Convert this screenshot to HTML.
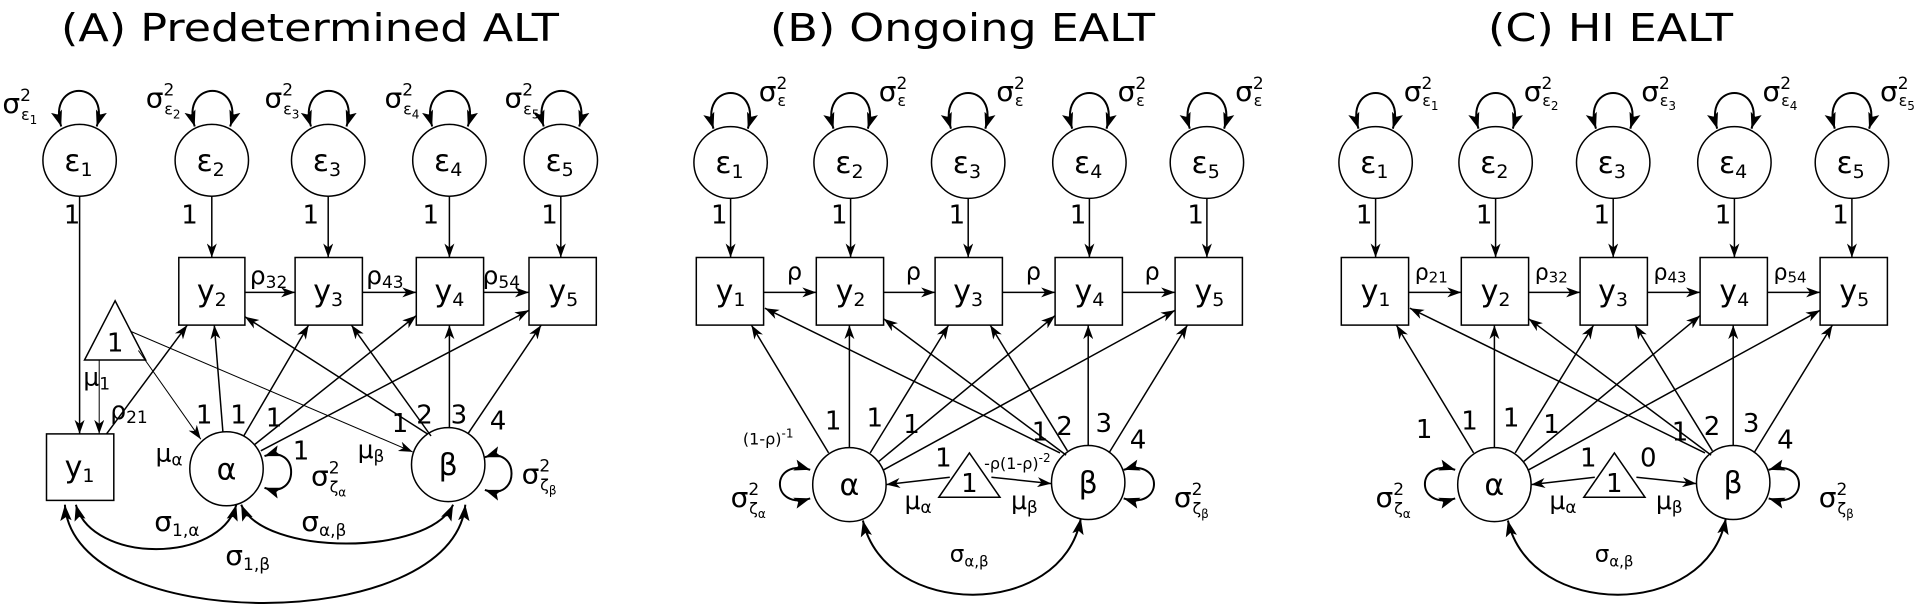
<!DOCTYPE html>
<html><head><meta charset="utf-8"><style>
html,body{margin:0;padding:0;background:#fff;}
svg{display:block;font-family:"DejaVu Sans","Liberation Sans",sans-serif;}
</style></head><body>
<svg id="root" width="1920" height="612" viewBox="0 0 1920 612" xmlns="http://www.w3.org/2000/svg">
<defs>
<marker id="a" viewBox="0 0 14 10" refX="14" refY="5" markerWidth="15" markerHeight="10" orient="auto-start-reverse" markerUnits="userSpaceOnUse"><path d="M0,0 L14,5 L0,10 L4,5z" fill="#000"/></marker>
<marker id="b" viewBox="0 0 14 10" refX="14" refY="5" markerWidth="16" markerHeight="12" orient="auto-start-reverse" markerUnits="userSpaceOnUse"><path d="M0,0 L14,5 L0,10 L3,5z" fill="#000"/></marker>
</defs>
<g fill="#000" font-size="38">
<text x="61" y="41" textLength="498" lengthAdjust="spacingAndGlyphs">(A) Predetermined ALT</text>
<text x="770" y="41" textLength="385" lengthAdjust="spacingAndGlyphs">(B) Ongoing EALT</text>
<text x="1488" y="41" textLength="245" lengthAdjust="spacingAndGlyphs">(C) HI EALT</text>
</g>

<!-- ================= PANEL A ================= -->
<g id="pA">
<g stroke="#000" stroke-width="1.5" fill="none">
<ellipse cx="65" cy="155" rx="30" ry="34"/>
<ellipse cx="173" cy="155" rx="30" ry="34"/>
<ellipse cx="268" cy="155" rx="30" ry="34"/>
<ellipse cx="367" cy="155" rx="30" ry="34"/>
<ellipse cx="458" cy="155" rx="30" ry="34"/>
<g stroke-width="2" marker-start="url(#b)" marker-end="url(#b)">
<path d="M50,123 C38,78 91,78 79,123"/>
<path d="M159,123 C147,78 200,78 188,123"/>
<path d="M254,123 C242,78 295,78 283,123"/>
<path d="M353,123 C341,78 394,78 382,123"/>
<path d="M444,123 C432,78 485,78 473,123"/>
</g>
<rect x="38" y="414" width="55" height="63"/>
<rect x="146" y="247" width="54" height="64"/>
<rect x="241" y="247" width="55" height="64"/>
<rect x="340" y="247" width="55" height="64"/>
<rect x="432" y="247" width="55" height="64"/>
<polygon points="94,288 69,344 119,344"/>
<ellipse cx="185" cy="447" rx="30" ry="35"/>
<ellipse cx="366" cy="443" rx="30" ry="35"/>
<g marker-end="url(#a)">
<line x1="65" y1="189" x2="65" y2="414"/>
<line x1="173" y1="189" x2="173" y2="247"/>
<line x1="268" y1="189" x2="268" y2="247"/>
<line x1="367" y1="189" x2="367" y2="247"/>
<line x1="458" y1="189" x2="458" y2="247"/>
<line x1="81" y1="344" x2="81" y2="414" stroke-width="1"/>
<line x1="87" y1="414" x2="153" y2="311"/>
<line x1="200" y1="280" x2="241" y2="280"/>
<line x1="296" y1="280" x2="340" y2="280"/>
<line x1="395" y1="280" x2="432" y2="280"/>
<line x1="113" y1="335" x2="164" y2="419" stroke-width="1"/>
<line x1="107" y1="317" x2="337" y2="431" stroke-width="1"/>
<line x1="182" y1="412" x2="175" y2="311"/>
<line x1="199" y1="416" x2="252" y2="311"/>
<line x1="208" y1="424" x2="340" y2="302"/>
<line x1="213" y1="430" x2="432" y2="297"/>
<line x1="349" y1="414" x2="200" y2="303"/>
<line x1="352" y1="416" x2="287" y2="311"/>
<line x1="367" y1="408" x2="367" y2="311"/>
<line x1="382" y1="414" x2="442" y2="311"/>
</g>
<g stroke-width="2" marker-start="url(#b)" marker-end="url(#b)">
<path d="M216,435 C245,423 245,477 216,465"/>
<path d="M396,436 C425,424 425,479 396,467"/>
<path d="M62,481 C75,537 180,537 193,481"/>
<path d="M197,481 C215,530 350,530 370,481"/>
<path d="M53,481 C60,605 370,605 380,481"/>
</g>
</g>
<g fill="#000" font-size="28">
<text x="2" y="110">σ<tspan font-size="17" dy="-12">2</tspan><tspan font-size="16" dx="-10" dy="19">ε</tspan><tspan font-size="12" dy="4">1</tspan></text>
<text x="119" y="105">σ<tspan font-size="17" dy="-12">2</tspan><tspan font-size="16" dx="-10" dy="19">ε</tspan><tspan font-size="12" dy="4">2</tspan></text>
<text x="216" y="105">σ<tspan font-size="17" dy="-12">2</tspan><tspan font-size="16" dx="-10" dy="19">ε</tspan><tspan font-size="12" dy="4">3</tspan></text>
<text x="314" y="105">σ<tspan font-size="17" dy="-12">2</tspan><tspan font-size="16" dx="-10" dy="19">ε</tspan><tspan font-size="12" dy="4">4</tspan></text>
<text x="412" y="105">σ<tspan font-size="17" dy="-12">2</tspan><tspan font-size="16" dx="-10" dy="19">ε</tspan><tspan font-size="12" dy="4">5</tspan></text>
<g text-anchor="middle" font-size="30">
<text x="64" y="165">ε<tspan font-size="19" dy="5">1</tspan></text>
<text x="172" y="165">ε<tspan font-size="19" dy="5">2</tspan></text>
<text x="267" y="165">ε<tspan font-size="19" dy="5">3</tspan></text>
<text x="366" y="165">ε<tspan font-size="19" dy="5">4</tspan></text>
<text x="457" y="165">ε<tspan font-size="19" dy="5">5</tspan></text>
<text x="65" y="455">y<tspan font-size="19" dy="5">1</tspan></text>
<text x="173" y="288">y<tspan font-size="19" dy="5">2</tspan></text>
<text x="268" y="288">y<tspan font-size="19" dy="5">3</tspan></text>
<text x="367" y="288">y<tspan font-size="19" dy="5">4</tspan></text>
<text x="460" y="288">y<tspan font-size="19" dy="5">5</tspan></text>
<text x="185" y="457">α</text>
<text x="366" y="453">β</text>
<text x="94" y="336" font-size="26">1</text>
</g>
<g font-size="26">
<text x="52" y="215">1</text><text x="148" y="215">1</text><text x="247" y="215">1</text><text x="345" y="215">1</text><text x="442" y="215">1</text>
</g>
<g font-size="25">
<text x="204" y="272">ρ<tspan font-size="17" dy="4">32</tspan></text>
<text x="299" y="272">ρ<tspan font-size="17" dy="4">43</tspan></text>
<text x="394" y="272">ρ<tspan font-size="17" dy="4">54</tspan></text>
<text x="90" y="400">ρ<tspan font-size="17" dy="4">21</tspan></text>
<text x="68" y="368">μ<tspan font-size="17" dy="4">1</tspan></text>
<text x="127" y="440">μ<tspan font-size="17" dy="4">α</tspan></text>
<text x="292" y="437">μ<tspan font-size="17" dy="4">β</tspan></text>
</g>
<g font-size="26">
<text x="160" y="404">1</text><text x="188" y="404">1</text><text x="217" y="407">1</text><text x="320" y="412">1</text><text x="340" y="404">2</text><text x="368" y="404">3</text><text x="400" y="410">4</text>
<text x="239" y="438">1</text>
</g>
<text x="254" y="463">σ<tspan font-size="17" dy="-12">2</tspan><tspan font-size="16" dx="-10" dy="19">ζ</tspan><tspan font-size="12" dy="4">α</tspan></text>
<text x="426" y="461">σ<tspan font-size="17" dy="-12">2</tspan><tspan font-size="16" dx="-10" dy="19">ζ</tspan><tspan font-size="12" dy="4">β</tspan></text>
<text x="126" y="506">σ<tspan font-size="17" dy="5">1,α</tspan></text>
<text x="246" y="506">σ<tspan font-size="17" dy="5">α,β</tspan></text>
<text x="184" y="538">σ<tspan font-size="17" dy="5">1,β</tspan></text>
</g>
</g>

<!-- ================= PANEL B ================= -->
<g id="pB">
<g id="shp" stroke="#000" stroke-width="1.5" fill="none">
<ellipse cx="714" cy="157" rx="30" ry="34"/>
<ellipse cx="812" cy="157" rx="30" ry="34"/>
<ellipse cx="908" cy="157" rx="30" ry="34"/>
<ellipse cx="1007" cy="157" rx="30" ry="34"/>
<ellipse cx="1103" cy="157" rx="30" ry="34"/>
<g stroke-width="2" marker-start="url(#b)" marker-end="url(#b)">
<path d="M700,125 C688,80 740,80 728,125"/>
<path d="M798,125 C786,80 838,80 826,125"/>
<path d="M894,125 C882,80 934,80 922,125"/>
<path d="M993,125 C981,80 1033,80 1021,125"/>
<path d="M1089,125 C1077,80 1129,80 1117,125"/>
</g>
<rect x="686" y="247" width="55" height="64"/>
<rect x="784" y="247" width="55" height="64"/>
<rect x="881" y="247" width="55" height="64"/>
<rect x="979" y="247" width="55" height="64"/>
<rect x="1077" y="247" width="55" height="64"/>
<polygon points="909,432 884,474 934,474"/>
<ellipse cx="811" cy="462" rx="30" ry="35"/>
<ellipse cx="1006" cy="460" rx="30" ry="35"/>
<g marker-end="url(#a)">
<line x1="714" y1="191" x2="714" y2="247"/>
<line x1="812" y1="191" x2="812" y2="247"/>
<line x1="908" y1="191" x2="908" y2="247"/>
<line x1="1007" y1="191" x2="1007" y2="247"/>
<line x1="1103" y1="191" x2="1103" y2="247"/>
<line x1="741" y1="280" x2="784" y2="280"/>
<line x1="839" y1="280" x2="881" y2="280"/>
<line x1="936" y1="280" x2="979" y2="280"/>
<line x1="1034" y1="280" x2="1077" y2="280"/>
<line x1="893" y1="455" x2="841" y2="462"/>
<line x1="927" y1="455" x2="976" y2="461"/>
<line x1="794" y1="432" x2="731" y2="311"/>
<line x1="811" y1="427" x2="811" y2="311"/>
<line x1="828" y1="432" x2="892" y2="311"/>
<line x1="835" y1="440" x2="979" y2="302"/>
<line x1="839" y1="448" x2="1077" y2="297"/>
<line x1="983" y1="432" x2="742" y2="295"/>
<line x1="988" y1="434" x2="839" y2="305"/>
<line x1="989" y1="430" x2="926" y2="311"/>
<line x1="1006" y1="425" x2="1006" y2="311"/>
<line x1="1023" y1="432" x2="1087" y2="311"/>
</g>
<g stroke-width="2" marker-start="url(#b)" marker-end="url(#b)">
<path d="M779,448 C746,436 746,487 779,475"/>
<path d="M1035,448 C1068,436 1068,487 1035,475"/>
<path d="M822,496 C840,590 985,590 1000,494"/>
</g>
</g>
<g fill="#000" font-size="28">
<text x="737" y="99">σ<tspan font-size="17" dy="-12">2</tspan><tspan font-size="16" dx="-10" dy="17">ε</tspan></text>
<text x="835" y="99">σ<tspan font-size="17" dy="-12">2</tspan><tspan font-size="16" dx="-10" dy="17">ε</tspan></text>
<text x="931" y="99">σ<tspan font-size="17" dy="-12">2</tspan><tspan font-size="16" dx="-10" dy="17">ε</tspan></text>
<text x="1030" y="99">σ<tspan font-size="17" dy="-12">2</tspan><tspan font-size="16" dx="-10" dy="17">ε</tspan></text>
<text x="1126" y="99">σ<tspan font-size="17" dy="-12">2</tspan><tspan font-size="16" dx="-10" dy="17">ε</tspan></text>
<g text-anchor="middle" font-size="30">
<text x="713" y="167">ε<tspan font-size="19" dy="5">1</tspan></text>
<text x="811" y="167">ε<tspan font-size="19" dy="5">2</tspan></text>
<text x="907" y="167">ε<tspan font-size="19" dy="5">3</tspan></text>
<text x="1006" y="167">ε<tspan font-size="19" dy="5">4</tspan></text>
<text x="1102" y="167">ε<tspan font-size="19" dy="5">5</tspan></text>
<text x="714" y="288">y<tspan font-size="19" dy="5">1</tspan></text>
<text x="812" y="288">y<tspan font-size="19" dy="5">2</tspan></text>
<text x="908" y="288">y<tspan font-size="19" dy="5">3</tspan></text>
<text x="1007" y="288">y<tspan font-size="19" dy="5">4</tspan></text>
<text x="1105" y="288">y<tspan font-size="19" dy="5">5</tspan></text>
<text x="811" y="472">α</text>
<text x="1006" y="470">β</text>
<text x="909" y="469" font-size="26">1</text>
</g>
<g font-size="26">
<text x="698" y="215">1</text><text x="796" y="215">1</text><text x="892" y="215">1</text><text x="991" y="215">1</text><text x="1087" y="215">1</text>
<text x="760" y="268" font-size="24">ρ</text><text x="857" y="268" font-size="24">ρ</text><text x="955" y="268" font-size="24">ρ</text><text x="1052" y="268" font-size="24">ρ</text>
<text x="856" y="485" font-size="25">μ<tspan font-size="17" dy="4">α</tspan></text>
<text x="943" y="485" font-size="25">μ<tspan font-size="17" dy="4">β</tspan></text>
<text x="791" y="410">1</text><text x="825" y="407">1</text><text x="855" y="413">1</text><text x="881" y="445">1</text>
<text x="960" y="420">1</text><text x="980" y="415">2</text><text x="1012" y="412">3</text><text x="1040" y="428">4</text>
</g>
<text x="724" y="424" font-size="16">(1-ρ)<tspan font-size="12" dy="-7">-1</tspan></text>
<text x="921" y="447" font-size="16">-ρ(1-ρ)<tspan font-size="12" dy="-7">-2</tspan></text>
<text x="714" y="483">σ<tspan font-size="17" dy="-12">2</tspan><tspan font-size="16" dx="-10" dy="19">ζ</tspan><tspan font-size="12" dy="4">α</tspan></text>
<text x="1076" y="483">σ<tspan font-size="17" dy="-12">2</tspan><tspan font-size="16" dx="-10" dy="19">ζ</tspan><tspan font-size="12" dy="4">β</tspan></text>
<text x="893" y="535" font-size="23">σ<tspan font-size="15" dy="5">α,β</tspan></text>
</g>
</g>
<use href="#shp" transform="translate(645,0)"/>

<!-- ================= PANEL C text ================= -->
<g id="pC">
<g fill="#000" font-size="28">
<text x="1381" y="99">σ<tspan font-size="17" dy="-12">2</tspan><tspan font-size="16" dx="-10" dy="17">ε</tspan><tspan font-size="12" dy="4">1</tspan></text>
<text x="1479" y="99">σ<tspan font-size="17" dy="-12">2</tspan><tspan font-size="16" dx="-10" dy="17">ε</tspan><tspan font-size="12" dy="4">2</tspan></text>
<text x="1575" y="99">σ<tspan font-size="17" dy="-12">2</tspan><tspan font-size="16" dx="-10" dy="17">ε</tspan><tspan font-size="12" dy="4">3</tspan></text>
<text x="1674" y="99">σ<tspan font-size="17" dy="-12">2</tspan><tspan font-size="16" dx="-10" dy="17">ε</tspan><tspan font-size="12" dy="4">4</tspan></text>
<text x="1770" y="99">σ<tspan font-size="17" dy="-12">2</tspan><tspan font-size="16" dx="-10" dy="17">ε</tspan><tspan font-size="12" dy="4">5</tspan></text>
<g text-anchor="middle" font-size="30">
<text x="1357" y="167">ε<tspan font-size="19" dy="5">1</tspan></text>
<text x="1455" y="167">ε<tspan font-size="19" dy="5">2</tspan></text>
<text x="1551" y="167">ε<tspan font-size="19" dy="5">3</tspan></text>
<text x="1650" y="167">ε<tspan font-size="19" dy="5">4</tspan></text>
<text x="1746" y="167">ε<tspan font-size="19" dy="5">5</tspan></text>
<text x="1358" y="288">y<tspan font-size="19" dy="5">1</tspan></text>
<text x="1456" y="288">y<tspan font-size="19" dy="5">2</tspan></text>
<text x="1552" y="288">y<tspan font-size="19" dy="5">3</tspan></text>
<text x="1651" y="288">y<tspan font-size="19" dy="5">4</tspan></text>
<text x="1749" y="288">y<tspan font-size="19" dy="5">5</tspan></text>
<text x="1455" y="472">α</text>
<text x="1650" y="470">β</text>
<text x="1553" y="469" font-size="26">1</text>
</g>
<g font-size="26">
<text x="1342" y="215">1</text><text x="1440" y="215">1</text><text x="1536" y="215">1</text><text x="1635" y="215">1</text><text x="1731" y="215">1</text>
<text x="1390" y="268" font-size="22">ρ<tspan font-size="15" dy="3">21</tspan></text>
<text x="1488" y="268" font-size="22">ρ<tspan font-size="15" dy="3">32</tspan></text>
<text x="1585" y="268" font-size="22">ρ<tspan font-size="15" dy="3">43</tspan></text>
<text x="1683" y="268" font-size="22">ρ<tspan font-size="15" dy="3">54</tspan></text>
<text x="1500" y="485" font-size="25">μ<tspan font-size="17" dy="4">α</tspan></text>
<text x="1587" y="485" font-size="25">μ<tspan font-size="17" dy="4">β</tspan></text>
<text x="1391" y="418">1</text><text x="1574" y="445">0</text>
<text x="1428" y="410">1</text><text x="1462" y="407">1</text><text x="1495" y="413">1</text><text x="1525" y="445">1</text>
<text x="1600" y="420">1</text><text x="1626" y="415">2</text><text x="1658" y="412">3</text><text x="1686" y="428">4</text>
</g>
<text x="1358" y="483">σ<tspan font-size="17" dy="-12">2</tspan><tspan font-size="16" dx="-10" dy="19">ζ</tspan><tspan font-size="12" dy="4">α</tspan></text>
<text x="1720" y="483">σ<tspan font-size="17" dy="-12">2</tspan><tspan font-size="16" dx="-10" dy="19">ζ</tspan><tspan font-size="12" dy="4">β</tspan></text>
<text x="1537" y="535" font-size="23">σ<tspan font-size="15" dy="5">α,β</tspan></text>
</g>
</g>
</svg>
<script>
(function(){
var SX=1.2245, SY=1.0563;
function fix(id,ox){
  var g=document.getElementById(id);
  var fx=function(x){return (ox+(x-ox)*SX).toFixed(1);};
  var fy=function(y){return (60+(y-60)*SY).toFixed(1);};
  var els=g.querySelectorAll('*');
  for(var i=0;i<els.length;i++){
    var e=els[i], t=e.tagName.toLowerCase(), v;
    if(t==='line'){
      e.setAttribute('x1',fx(+e.getAttribute('x1')));e.setAttribute('x2',fx(+e.getAttribute('x2')));
      e.setAttribute('y1',fy(+e.getAttribute('y1')));e.setAttribute('y2',fy(+e.getAttribute('y2')));
    }else if(t==='rect'){
      var x=+e.getAttribute('x'),y=+e.getAttribute('y'),w=+e.getAttribute('width'),h=+e.getAttribute('height');
      e.setAttribute('x',fx(x));e.setAttribute('y',fy(y));
      e.setAttribute('width',(w*SX).toFixed(1));e.setAttribute('height',(h*SY).toFixed(1));
    }else if(t==='ellipse'){
      e.setAttribute('cx',fx(+e.getAttribute('cx')));e.setAttribute('cy',fy(+e.getAttribute('cy')));
      e.setAttribute('rx',(+e.getAttribute('rx')*SX).toFixed(1));e.setAttribute('ry',(+e.getAttribute('ry')*SY).toFixed(1));
    }else if(t==='path'||t==='polygon'){
      var at=t==='path'?'d':'points';
      v=e.getAttribute(at).replace(/(-?[\d.]+),(-?[\d.]+)/g,function(m,a,b){return fx(+a)+','+fy(+b);});
      e.setAttribute(at,v);
    }else if(t==='text'){
      if(e.hasAttribute('x'))e.setAttribute('x',fx(+e.getAttribute('x')));
      if(e.hasAttribute('y'))e.setAttribute('y',fy(+e.getAttribute('y')));
    }
  }
}
fix('pA',0);fix('pB',640);fix('pC',1280);
})();
</script>
</body></html>
